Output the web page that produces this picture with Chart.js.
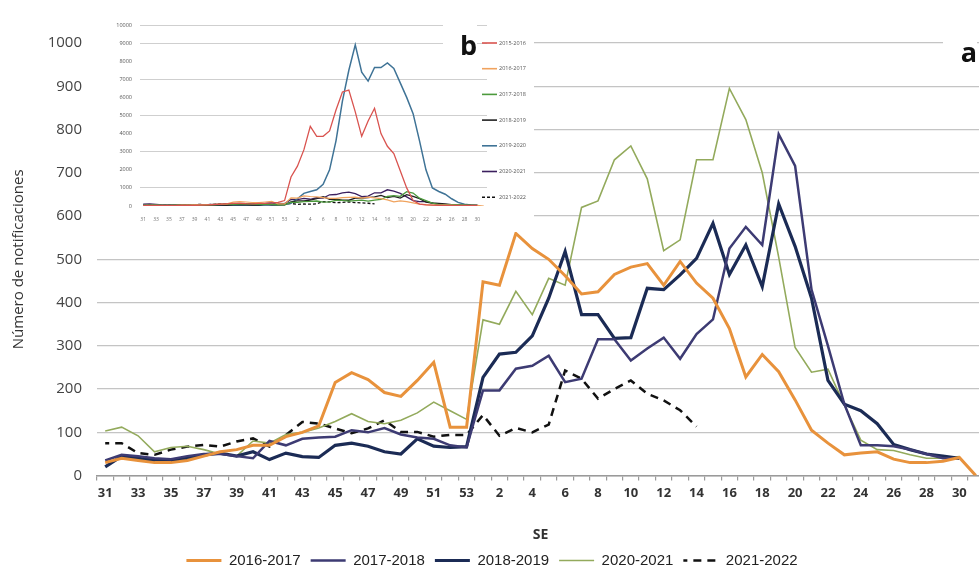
<!DOCTYPE html>
<html>
<head>
<meta charset="utf-8">
<script src="https://cdn.jsdelivr.net/npm/chart.js@4.4.1/dist/chart.umd.min.js"></script>
<style>
  html, body { margin: 0; padding: 0; background: #fff; overflow: hidden; }
  #wrap { position: relative; width: 979px; height: 580px; overflow: hidden; }
  #main { position: absolute; left: 0; top: 0; }
  #insetBox { position: absolute; left: 88px; top: 0; width: 446px; height: 232px; background: #fff; }
  .tag { position: absolute; background: #fff; font: bold 27px "Open Sans", sans-serif; line-height: 27px; color: #111; text-align: right; }
</style>
</head>
<body>
<div id="wrap">
  <canvas id="main" width="986" height="580"></canvas>
  <div id="insetBox"><canvas id="inset" width="446" height="232"></canvas></div>
  <div class="tag" style="left:443px; top:18px; width:34px; padding-top:13px; height:29px;">b</div>
  <div class="tag" style="left:943px; top:30px; width:34px; padding-top:8px; height:30px;">a</div>
</div>
<script>
// epidemiological weeks 31..53, then 1..31
const weeks = ['31','32','33','34','35','36','37','38','39','40','41','42','43','44','45','46','47','48','49','50','51','52','53',
  '1','2','3','4','5','6','7','8','9','10','11','12','13','14','15','16','17','18','19','20','21','22','23','24','25','26','27','28','29','30','31'];

// main chart (a)
const s1617 = [30,40,35,30,30,35,45,55,60,70,70,90,100,115,215,238,222,192,183,220,262,112,112,
  448,440,560,525,500,462,420,425,465,482,490,440,495,445,410,340,228,280,240,175,105,75,48,52,55,38,30,30,33,42,0];
const s1718 = [35,48,45,40,38,45,50,50,45,40,80,70,85,88,90,105,100,110,95,88,85,70,65,
  197,197,247,254,277,216,224,315,315,266,294,319,270,327,361,525,575,533,789,716,430,300,165,70,70,68,60,50,40,40,null];
const s1819 = [20,45,40,35,35,40,48,52,45,55,37,52,44,42,70,75,68,55,50,85,68,65,67,
  227,281,285,323,410,518,372,372,317,319,433,430,464,502,583,465,533,437,628,530,410,220,165,150,120,72,60,50,45,40,null];
const s2021 = [103,112,92,55,65,68,60,50,45,80,75,95,100,110,125,143,125,120,128,145,170,150,130,
  360,350,426,372,456,440,620,635,730,762,686,520,545,730,730,895,823,700,505,296,239,246,163,82,60,58,48,40,40,44,null];
const s2122 = [75,75,52,48,60,67,71,67,79,86,67,94,124,120,109,98,109,128,101,101,90,94,94,
  140,92,110,100,118,243,224,178,200,220,189,174,151,113,
  null,null,null,null,null,null,null,null,null,null,null,null,null,null,null,null,null];

// inset (b): the two large seasons
const s1516 = [20,20,20,20,20,20,30,30,40,50,60,80,100,120,140,150,130,120,140,150,170,200,
  300,1600,2200,3100,4400,3850,3850,4150,5300,6300,6400,5200,3850,4700,5400,4000,3300,2900,1950,1000,300,100,60,50,40,30,30,20,20,20,20,null];
const s1920 = [40,40,40,40,40,40,40,40,40,40,40,40,40,40,40,40,40,40,40,50,50,60,80,
  150,400,700,800,900,1200,2000,3600,5800,7500,8900,7400,6900,7650,7650,7900,7600,6800,6000,5100,3600,2000,1000,800,650,400,200,100,50,30,null];

const evenLabel = function (v, i) {
  return i % 2 === 0 && i < 53 ? this.getLabelForValue(v) : '';
};
const plain = v => String(v);

new Chart(document.getElementById('main'), {
  type: 'line',
  data: {
    labels: weeks,
    datasets: [
      { label: '2016-2017', data: s1617, borderColor: '#e8923c', borderWidth: 3 },
      { label: '2017-2018', data: s1718, borderColor: '#3d3b73', borderWidth: 2.5 },
      { label: '2018-2019', data: s1819, borderColor: '#1b2b55', borderWidth: 3.2 },
      { label: '2020-2021', data: s2021, borderColor: '#93aa5c', borderWidth: 1.6 },
      // offset keeps the dash pattern aligned on the legend's zero-height box
      { label: '2021-2022', data: s2122, borderColor: '#111111', borderWidth: 2.5, borderDash: [8, 6], borderDashOffset: 4 }
    ]
  },
  options: {
    responsive: false,
    animation: false,
    elements: { point: { radius: 0 }, line: { tension: 0 } },
    layout: { padding: { top: 43, right: 2, left: 0, bottom: 2 } },
    scales: {
      x: {
        offset: true,
        grid: { offset: true, drawOnChartArea: false, drawTicks: true, tickLength: 5, color: '#9a9a9a', lineWidth: 1.2 },
        border: { display: true, color: '#9a9a9a', width: 1.5 },
        ticks: { autoSkip: false, maxRotation: 0, padding: 5, color: '#333', font: { family: 'Open Sans', size: 13, weight: 'bold' }, callback: evenLabel },
        title: { display: true, text: 'SE', color: '#333', font: { family: 'Open Sans', size: 14, weight: 'bold' }, padding: { top: 20, bottom: 0 } }
      },
      y: {
        min: 0, max: 1000,
        ticks: { stepSize: 100, padding: 15, color: '#444', font: { family: 'Open Sans', size: 15 }, callback: plain },
        grid: { color: '#c4c4c4', lineWidth: 1.3, drawTicks: false },
        border: { display: false },
        title: { display: true, text: 'Número de notificaciones', color: '#333', font: { family: 'Open Sans', size: 15 }, padding: { top: 10, bottom: 0 } },
        afterFit(s) { s.width = 97; }
      }
    },
    plugins: {
      legend: {
        position: 'bottom',
        labels: { boxWidth: 35, boxHeight: 0, padding: 10, color: '#222', font: { family: 'Liberation Sans', size: 15 } }
      },
      tooltip: { enabled: false }
    }
  }
});

// small vertical legend to the right of the inset plot
const insetLegend = {
  id: 'insetLegend',
  afterDraw(chart) {
    const ctx = chart.ctx;
    const x0 = chart.chartArea.right - 5;
    ctx.save();
    ctx.font = '5.5px "Open Sans"';
    ctx.textBaseline = 'middle';
    chart.data.datasets.forEach((ds, k) => {
      const y = 43 + k * 25.7;
      ctx.strokeStyle = ds.borderColor;
      ctx.lineWidth = 1.6;
      ctx.setLineDash(ds.borderDash ? [3, 2] : []);
      ctx.beginPath();
      ctx.moveTo(x0, y);
      ctx.lineTo(x0 + 15, y);
      ctx.stroke();
      ctx.setLineDash([]);
      ctx.fillStyle = '#555';
      ctx.fillText(ds.label, x0 + 17, y);
    });
    ctx.restore();
  }
};

new Chart(document.getElementById('inset'), {
  type: 'line',
  data: {
    labels: weeks,
    datasets: [
      { label: '2015-2016', data: s1516, borderColor: '#d9534f', borderWidth: 1.3 },
      { label: '2016-2017', data: s1617, borderColor: '#f0a35e', borderWidth: 1.2 },
      { label: '2017-2018', data: s1718, borderColor: '#4c9a3c', borderWidth: 1.3 },
      { label: '2018-2019', data: s1819, borderColor: '#222222', borderWidth: 1.3 },
      { label: '2019-2020', data: s1920, borderColor: '#3f7396', borderWidth: 1.5 },
      { label: '2020-2021', data: s2021, borderColor: '#3b1f5e', borderWidth: 1.3 },
      { label: '2021-2022', data: s2122, borderColor: '#111111', borderWidth: 1.3, borderDash: [3, 2] }
    ]
  },
  options: {
    responsive: false,
    animation: false,
    elements: { point: { radius: 0 }, line: { tension: 0 } },
    layout: { padding: { top: 25, right: 47, bottom: 6, left: 0 } },
    scales: {
      x: {
        offset: true,
        grid: { display: false },
        border: { display: false },
        ticks: { autoSkip: false, maxRotation: 0, padding: 3, color: '#777', font: { family: 'Open Sans', size: 5 }, callback: evenLabel }
      },
      y: {
        min: 0, max: 10000,
        ticks: { stepSize: 1000, padding: 8, color: '#555', font: { family: 'Open Sans', size: 5.5 }, callback: plain },
        grid: {
          drawTicks: false, lineWidth: 1,
          color: c => (c.tick.value / 1000) % 2 === 1 || c.tick.value === 10000 ? '#cfcfcf' : 'rgba(0,0,0,0)'
        },
        border: { display: false },
        afterFit(s) { s.width = 52; }
      }
    },
    plugins: { legend: { display: false }, tooltip: { enabled: false } }
  },
  plugins: [insetLegend]
});
</script>
</body>
</html>
